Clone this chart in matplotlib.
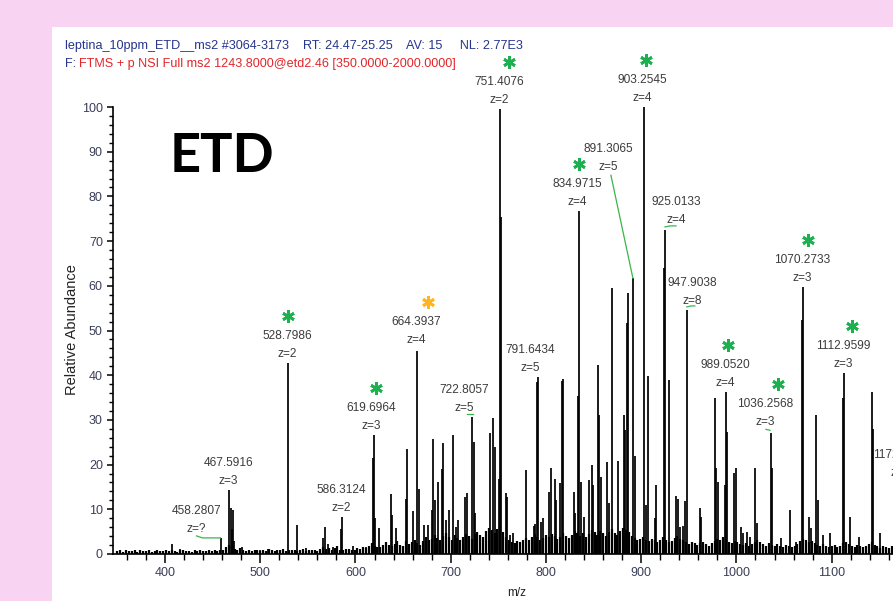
import numpy as np
import matplotlib
matplotlib.use("Agg")
import matplotlib.pyplot as plt
from matplotlib.patches import Rectangle
from matplotlib.ticker import MultipleLocator

# ---------------- data ----------------
header_line1 = "leptina_10ppm_ETD__ms2 #3064-3173    RT: 24.47-25.25    AV: 15     NL: 2.77E3"
header_prefix = "F:"
header_line2 = "FTMS + p NSI Full ms2 1243.8000@etd2.46 [350.0000-2000.0000]"
panel_title = "ETD"
x_label = "m/z"
y_label = "Relative Abundance"
x_ticks = [400, 500, 600, 700, 800, 900, 1000, 1100]
y_ticks = [0, 10, 20, 30, 40, 50, 60, 70, 80, 90, 100]

# annotated peaks (m/z, relative abundance, charge, marker)
label_mz = [458.2807, 467.5916, 528.7986, 586.3124, 619.6964, 664.3937, 722.8057,
            751.4076, 791.6434, 834.9715, 891.3065, 903.2545, 925.0133, 947.9038,
            989.0520, 1036.2568, 1070.2733, 1112.9599, 1172.2934]
label_int = [3.6, 14.3, 42.7, 8.3, 26.6, 45.4, 30.7,
             99.5, 39.6, 76.7, 61.7, 100.0, 72.5, 54.6,
             36.2, 27.0, 59.8, 40.5, 16.0]
label_charge = ["?", "3", "2", "2", "3", "4", "5",
                "2", "5", "4", "5", "4", "4", "8",
                "4", "3", "3", "3", "3"]
label_star = ["", "", "g", "", "g", "o", "",
              "g", "", "g", "", "g", "", "",
              "g", "g", "g", "g", ""]

# other resolved peaks
peak_mz = [407.0, 415.5, 437.0, 468.9, 469.9, 471.6, 472.5, 480.5, 500.0, 508.0,
           538.5, 548.0, 566.0, 568.0, 571.0, 576.0, 585.3, 597.0, 611.0,
           618.5, 621.0, 625.0, 637.0, 638.5, 643.0, 652.7, 653.8, 660.0, 666.3,
           671.8, 676.0, 680.0, 681.5, 683.6, 686.3, 690.6, 692.4, 695.4, 698.0,
           702.0, 706.0, 707.7, 715.5, 717.3, 724.0, 725.2, 741.0, 744.0, 746.5,
           750.3, 752.4, 757.6, 759.4, 762.0, 765.0, 779.0, 787.3, 788.8, 790.4,
           795.0, 797.0, 803.0, 805.0, 809.0, 811.0, 814.5, 816.5, 818.0, 829.0,
           830.5, 833.6, 836.8, 840.0, 845.0, 848.0, 849.0, 855.0, 856.0, 858.0,
           864.0, 866.0, 869.5, 875.5, 881.6, 883.0, 885.0, 886.5, 894.0, 905.5,
           907.5, 914.0, 916.0, 924.0, 929.0, 937.0, 939.0, 941.0, 944.0, 946.0,
           961.5, 963.0, 977.0, 978.5, 981.0, 988.2, 990.2, 997.5, 1000.0, 1005.0,
           1006.6, 1010.7, 1014.0, 1020.0, 1021.5, 1037.3, 1047.0, 1056.7, 1063.0, 1069.3,
           1076.0, 1078.8, 1084.0, 1085.5, 1091.0, 1098.0, 1112.0, 1119.0, 1129.0, 1142.0,
           1143.5, 1151.0]
peak_int = [2.3, 1.2, 1.0, 10.4, 5.5, 9.8, 3.0, 1.6, 1.0, 1.2,
            6.5, 1.3, 3.5, 6.0, 2.2, 1.5, 5.6, 1.8, 1.6,
            21.5, 8.0, 5.8, 13.4, 8.7, 5.8, 12.3, 23.5, 9.6, 14.5,
            6.5, 6.5, 9.8, 25.7, 12.0, 16.0, 19.0, 24.8, 7.6, 9.8,
            26.6, 6.0, 7.6, 12.8, 13.6, 25.0, 9.1, 27.0, 30.4, 24.0,
            16.8, 75.4, 13.6, 12.8, 4.3, 4.7, 18.8, 6.3, 6.7, 38.5,
            7.2, 8.0, 13.9, 19.2, 16.8, 12.0, 15.9, 38.7, 39.1, 13.9,
            9.1, 35.3, 16.0, 8.3, 16.5, 20.0, 15.4, 42.2, 31.0, 17.2,
            20.5, 11.4, 59.5, 20.8, 31.0, 27.7, 51.7, 58.4, 22.0, 11.0,
            39.8, 8.0, 15.4, 64.0, 39.0, 13.0, 12.3, 6.0, 6.3, 11.9,
            10.3, 8.3, 35.0, 19.2, 16.0, 15.4, 27.3, 18.1, 19.2, 6.0,
            4.7, 5.0, 3.8, 19.2, 7.0, 19.2, 3.6, 9.8, 2.7, 52.3,
            8.3, 5.8, 31.0, 12.0, 4.3, 4.7, 35.0, 8.3, 3.8, 36.2,
            28.0, 4.7]

# low-level signal (chemical noise), one value every 3 m/z from 350
grass_start = 350.0
grass_step = 3.0
grass_int = [
    0.6, 0.8, 0.5, 0.9, 0.7, 0.6, 1.0, 0.5, 0.8, 0.6, 0.7, 0.9, 0.5, 0.7, 0.8, 0.6, 0.7,
    0.8, 0.6, 0.9, 0.7, 0.5, 0.8, 1.0, 0.6, 0.7, 0.5, 0.9, 0.6, 0.8, 0.7, 0.6, 0.9, 0.7,
    0.8, 0.6, 1.0, 0.9, 1.6, 2.0, 1.8, 1.2, 1.0, 1.4, 0.8, 0.7, 0.9, 0.6, 0.8, 1.0, 0.7,
    0.9, 0.7, 1.1, 0.8, 0.6, 1.0, 0.8, 1.2, 0.7, 0.9, 1.0, 0.8, 0.6, 0.9, 1.1, 0.7, 0.8,
    0.9, 1.0, 0.7, 1.2, 1.5, 1.1, 1.3, 0.9, 1.4, 1.8, 1.0, 0.8, 1.1, 1.2, 0.9, 1.0, 1.3,
    1.2, 1.5, 1.3, 1.9, 2.4, 1.8, 1.5, 1.6, 2.1, 2.6, 2.0, 1.7, 2.3, 2.8, 2.1, 1.8, 2.9,
    2.3, 2.6, 3.2, 2.5, 2.1, 2.8, 3.7, 3.1, 3.4, 4.3, 3.6, 3.1, 4.0, 4.7, 3.7, 3.2, 4.2,
    3.6, 3.1, 3.9, 4.5, 4.0, 3.4, 4.4, 5.0, 4.2, 3.7, 5.2, 5.8, 5.3, 4.7, 5.6, 6.1, 4.9,
    3.9, 3.2, 2.7, 2.4, 2.9, 2.6, 3.1, 3.6, 3.2, 3.9, 4.4, 3.7, 3.2, 3.6, 4.2, 3.9, 4.5,
    4.1, 3.4, 3.9, 4.7, 4.1, 3.6, 4.2, 5.2, 4.6, 4.1, 4.7, 3.9, 4.4, 5.4, 4.9, 4.2, 5.1,
    4.6, 4.1, 4.9, 5.5, 4.7, 4.2, 5.2, 5.8, 5.4, 4.9, 4.1, 3.6, 3.1, 3.4, 3.9, 3.2, 2.9,
    3.4, 3.1, 2.7, 3.2, 3.7, 3.1, 2.6, 2.9, 3.6, 4.1, 3.4, 3.1, 2.6, 2.2, 2.7, 2.4, 2.1,
    2.4, 2.7, 2.2, 1.9, 2.4, 2.9, 3.4, 3.1, 3.7, 3.2, 2.7, 2.4, 2.9, 2.6, 2.2, 2.1, 2.4,
    1.9, 2.2, 2.6, 3.1, 2.7, 2.2, 1.9, 2.4, 2.1, 1.7, 2.2, 1.9, 1.6, 2.1, 1.7, 1.6, 1.9,
    2.2, 2.9, 3.4, 3.1, 2.6, 2.9, 2.4, 2.1, 1.7, 2.2, 1.9, 1.6, 1.7, 2.1, 1.6, 1.9, 2.4,
    2.7, 2.2, 1.9, 1.6, 2.1, 1.7, 1.6, 1.9, 2.2, 2.6, 2.1, 1.7, 1.4, 1.7, 1.6, 1.4, 1.7,
]

# ---------------- layout (pixels) ----------------
W, H = 893, 601
label_dx = [-24, -1, 0, -1, -3, -1, -8, 0, -8, -2, -25, -2, 11, 5, -1, -6, -1, -1, 0]
label_lift = [0, 0, 0, 0, 0, 2, 0, 0, 0, 0, 102, 0, 1, 0, 0, 2, 0, 0, 0]
star_dx = [0, 0, 0, 0, 5, 12, 0, 9, 0, 2, 0, 4, 0, 0, 3, 13, 6, 9, 0]
# green leader lines: offsets (px) from the peak apex
leaders = {
    0: [(-24, 2), (-18, 0), (0, 0)],
    6: [(-5, 3), (1, 3)],
    10: [(-22, 103), (0, 0)],
    12: [(0, 3), (5, 4), (11, 4)],
    13: [(0, 3), (4, 4), (8, 4)],
    15: [(-5, 4), (-1, 3)],
}

PINK = "#F8D3F2"
GREEN = "#1DB050"
ORANGE = "#FFB520"
TEXT_GREY = "#3c3c3c"
TICK_TXT = "#3a3e58"
NAVY = "#27358C"
RED = "#E2262A"

plt.rcParams["font.family"] = ["Liberation Sans", "DejaVu Sans"]

fig = plt.figure(figsize=(W / 100, H / 100), dpi=100, facecolor=PINK)
fig.patches.append(Rectangle((52 / W, 0), 1, 1 - 27 / H, transform=fig.transFigure,
                             facecolor="white", edgecolor="none", zorder=-10))

ax = fig.add_axes([113 / W, 47 / H, (W - 113) / W, (554 - 107) / H])
ax.set_zorder(5)
ax.patch.set_alpha(0)
ax.set_xlim(345.4, 1164.4)
ax.set_ylim(0, 100)

for s in ("top", "right"):
    ax.spines[s].set_visible(False)
for s in ("left", "bottom"):
    ax.spines[s].set_linewidth(1.2)

ax.set_xticks(x_ticks)
ax.set_yticks(y_ticks)
ax.xaxis.set_minor_locator(MultipleLocator(20))
ax.yaxis.set_minor_locator(MultipleLocator(2))
ax.tick_params(axis="y", which="major", length=4.3, width=1.1, pad=3,
               labelsize=9, labelcolor=TICK_TXT)
ax.tick_params(axis="y", which="minor", length=2.9, width=1.0)
ax.tick_params(axis="x", which="major", length=6.5, width=1.1, pad=3,
               labelsize=9, labelcolor=TICK_TXT)
ax.tick_params(axis="x", which="minor", length=4.3, width=1.0)

# spectrum
grass_mz = grass_start + grass_step * np.arange(len(grass_int))
ax.vlines(grass_mz, 0, grass_int, color="black", lw=1.6, clip_on=False)
ax.vlines(peak_mz, 0, peak_int, color="black", lw=1.25, clip_on=False)
ax.vlines(label_mz, 0, label_int, color="black", lw=1.25, clip_on=False)


def shifted(mz, inten, dx, dy):
    x, y = ax.transData.transform((mz, inten))
    return ax.transData.inverted().transform((x + dx, y + dy))


for i, (mz, inten, z) in enumerate(zip(label_mz, label_int, label_charge)):
    dx, lift = label_dx[i], label_lift[i]
    ax.annotate(f"{mz:.4f}", xy=(mz, inten), xytext=(dx, 27 + lift),
                textcoords="offset pixels", ha="center", va="center",
                fontsize=8.6, color=TEXT_GREY, annotation_clip=False)
    ax.annotate(f"z={z}", xy=(mz, inten), xytext=(dx, 9 + lift),
                textcoords="offset pixels", ha="center", va="center",
                fontsize=8.6, color=TEXT_GREY, annotation_clip=False)
    if label_star[i]:
        sx, sy = shifted(mz, inten, dx + star_dx[i], 47 + lift)
        ax.plot([sx], [sy], marker=(6, 2, 0), ms=9, mew=2.0,
                color=GREEN if label_star[i] == "g" else ORANGE, clip_on=False)

for i, pts in leaders.items():
    xy = np.array([shifted(label_mz[i], label_int[i], dx, dy) for dx, dy in pts])
    ax.plot(xy[:, 0], xy[:, 1], color="#39B54A", lw=0.9, clip_on=False)

# header and axis titles
fig.text(65 / W, 1 - 46 / H, header_line1, color=NAVY, fontsize=9.1, va="center")
fig.text(65 / W, 1 - 64 / H, header_prefix, color=NAVY, fontsize=9.1, va="center")
fig.text(79 / W, 1 - 64 / H, header_line2, color=RED, fontsize=9.1, va="center")
fig.text(170 / W, 1 - 172 / H, panel_title, fontsize=39, fontweight="bold",
         family=["Lato", "DejaVu Sans"], va="baseline", color="black")
fig.text(72 / W, 1 - 330 / H, y_label, rotation=90, ha="center", va="center",
         fontsize=10.5, color="#222222")
fig.text(517 / W, 1 - 593 / H, x_label, ha="center", va="center",
         fontsize=8.5, color="#222222")

fig.savefig("out.png", dpi=100, facecolor=PINK)
